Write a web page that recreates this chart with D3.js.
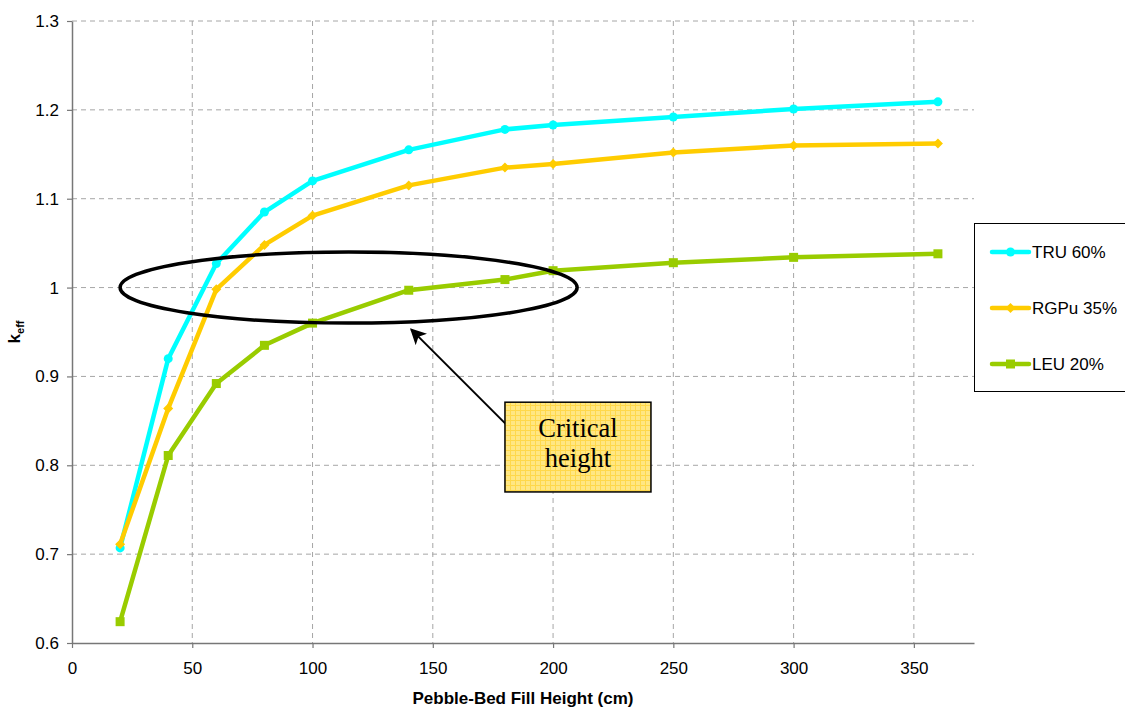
<!DOCTYPE html>
<html>
<head>
<meta charset="utf-8">
<script src="https://cdn.jsdelivr.net/npm/d3@7.9.0/dist/d3.min.js"></script>
<style>
  html, body { margin: 0; padding: 0; background: #fff; }
  svg { display: block; font-family: "Liberation Sans", Arial, sans-serif; }
</style>
</head>
<body>
<svg id="chart" width="1125" height="711"></svg>
<script>
// fill heights (cm) and keff for each fuel
const heights = [20, 40, 60, 80, 100, 140, 180, 200, 250, 300, 360];
const tru60   = [0.707, 0.920, 1.027, 1.085, 1.120, 1.155, 1.178, 1.183, 1.192, 1.201, 1.209];
const rgpu35  = [0.711, 0.864, 0.998, 1.048, 1.081, 1.115, 1.135, 1.139, 1.152, 1.160, 1.162];
const leu20   = [0.624, 0.811, 0.892, 0.935, 0.960, 0.997, 1.009, 1.019, 1.028, 1.034, 1.038];

const seriesNames = ['TRU 60%', 'RGPu 35%', 'LEU 20%'];
const xTicks = [0, 50, 100, 150, 200, 250, 300, 350];
const yTicks = [0.6, 0.7, 0.8, 0.9, 1.0, 1.1, 1.2, 1.3];

const svg = d3.select('#chart');

const x = d3.scaleLinear().domain([0, 375]).range([72, 974]);
const y = d3.scaleLinear().domain([0.6, 1.3]).range([643, 21]);

const series = [
  { name: seriesNames[0], values: tru60,  color: '#00ffff', shape: 'circle' },
  { name: seriesNames[1], values: rgpu35, color: '#ffcc00', shape: 'diamond' },
  { name: seriesNames[2], values: leu20,  color: '#99cc00', shape: 'square' }
];

// pattern for the callout box
const defs = svg.append('defs');
const pat = defs.append('pattern')
  .attr('id', 'grid-fill').attr('patternUnits', 'userSpaceOnUse')
  .attr('width', 5).attr('height', 5);
pat.append('rect').attr('width', 5).attr('height', 5).attr('fill', '#ffe783');
pat.append('path').attr('d', 'M0,0.5H5M0.5,0V5')
  .attr('stroke', '#ffd84a').attr('stroke-width', 1);

defs.append('marker')
  .attr('id', 'arrowhead').attr('viewBox', '0 0 10 10')
  .attr('refX', 9).attr('refY', 5)
  .attr('markerWidth', 8).attr('markerHeight', 8)
  .attr('markerUnits', 'strokeWidth')
  .attr('orient', 'auto')
  .append('path').attr('d', 'M0,0L10,5L0,10L2.5,5Z').attr('fill', '#000');

// grid
svg.append('g').selectAll('line')
  .data(yTicks.filter(d => d > 0.6))
  .join('line')
    .attr('x1', x(0)).attr('x2', x(375))
    .attr('y1', d => y(d)).attr('y2', d => y(d))
    .attr('stroke', '#a6a6a6').attr('stroke-dasharray', '5,4');

svg.append('g').selectAll('line')
  .data(xTicks.filter(d => d > 0))
  .join('line')
    .attr('x1', d => x(d)).attr('x2', d => x(d))
    .attr('y1', y(1.3)).attr('y2', y(0.6))
    .attr('stroke', '#a6a6a6').attr('stroke-dasharray', '5,4');

// axes
const xAxis = svg.append('g')
  .attr('transform', `translate(0,${y(0.6)})`)
  .call(d3.axisBottom(x).tickValues(xTicks).tickSize(5).tickSizeOuter(0).tickPadding(14));
const yAxis = svg.append('g')
  .attr('transform', `translate(${x(0)},0)`)
  .call(d3.axisLeft(y).tickValues(yTicks).tickFormat(d => d3.format('.1f')(d).replace(/\.0$/, ''))
        .tickSize(5).tickSizeOuter(0).tickPadding(8));

[xAxis, yAxis].forEach(a => {
  a.select('.domain').attr('stroke', '#777').attr('stroke-width', 1.5);
  a.selectAll('.tick line').attr('stroke', '#777').attr('stroke-width', 1.2);
  a.selectAll('.tick text').attr('font-size', 17).attr('fill', '#000')
    .attr('font-family', '"Liberation Sans", Arial, sans-serif');
});

// axis titles
svg.append('text')
  .attr('x', (x(0) + x(375)) / 2).attr('y', 704)
  .attr('text-anchor', 'middle').attr('font-weight', 'bold').attr('font-size', 17)
  .text('Pebble-Bed Fill Height (cm)');

const yt = svg.append('text')
  .attr('transform', 'translate(20,332) rotate(-90)')
  .attr('text-anchor', 'middle').attr('font-weight', 'bold').attr('font-size', 17);
yt.append('tspan').text('k');
yt.append('tspan').attr('font-size', 11).attr('dy', 4).text('eff');

// markers
function drawMarker(g, shape, color, cx, cy) {
  if (shape === 'circle') {
    g.append('circle').attr('cx', cx).attr('cy', cy).attr('r', 4.5).attr('fill', color);
  } else if (shape === 'diamond') {
    g.append('path')
      .attr('d', `M${cx},${cy - 5}L${cx + 5},${cy}L${cx},${cy + 5}L${cx - 5},${cy}Z`)
      .attr('fill', color);
  } else {
    g.append('rect').attr('x', cx - 4.5).attr('y', cy - 4.5)
      .attr('width', 9).attr('height', 9).attr('fill', color);
  }
}

const line = d3.line().x((d, i) => x(heights[i])).y(d => y(d));

series.forEach(s => {
  const g = svg.append('g');
  g.append('path')
    .attr('d', line(s.values))
    .attr('fill', 'none').attr('stroke', s.color)
    .attr('stroke-width', 4.5).attr('stroke-linejoin', 'round');
  s.values.forEach((v, i) => drawMarker(g, s.shape, s.color, x(heights[i]), y(v)));
});

// critical height annotation
svg.append('ellipse')
  .attr('cx', x(115)).attr('cy', y(1.0))
  .attr('rx', x(95) - x(0)).attr('ry', y(0.96) - y(1.0))
  .attr('fill', 'none').attr('stroke', '#000').attr('stroke-width', 3.5);

svg.append('line')
  .attr('x1', x(180.5)).attr('y1', y(0.846))
  .attr('x2', x(141)).attr('y2', y(0.953))
  .attr('stroke', '#000').attr('stroke-width', 2)
  .attr('marker-end', 'url(#arrowhead)');

const bx = x(180), by = y(0.871), bw = x(240.7) - x(180), bh = y(0.770) - y(0.871);
svg.append('rect')
  .attr('x', bx).attr('y', by).attr('width', bw).attr('height', bh)
  .attr('fill', 'url(#grid-fill)').attr('stroke', '#000').attr('stroke-width', 1.5);
const bt = svg.append('text')
  .attr('text-anchor', 'middle')
  .attr('font-family', '"Liberation Serif", "Times New Roman", serif')
  .attr('font-size', 26.5);
bt.append('tspan').attr('x', bx + bw / 2).attr('y', by + 35).text('Critical');
bt.append('tspan').attr('x', bx + bw / 2).attr('y', by + 65).text('height');

// legend
const lg = svg.append('g');
lg.append('rect')
  .attr('x', 974.5).attr('y', 223.5).attr('width', 170).attr('height', 168)
  .attr('fill', '#fff').attr('stroke', '#000').attr('stroke-width', 1);
series.forEach((s, i) => {
  const ly = 252 + i * 56;
  lg.append('line')
    .attr('x1', 992).attr('x2', 1029).attr('y1', ly).attr('y2', ly)
    .attr('stroke', s.color).attr('stroke-width', 4.5).attr('stroke-linecap', 'round');
  drawMarker(lg, s.shape, s.color, 1010.5, ly);
  lg.append('text')
    .attr('x', 1032).attr('y', ly).attr('dy', '0.36em')
    .attr('font-size', 17).text(s.name);
});
</script>
</body>
</html>
